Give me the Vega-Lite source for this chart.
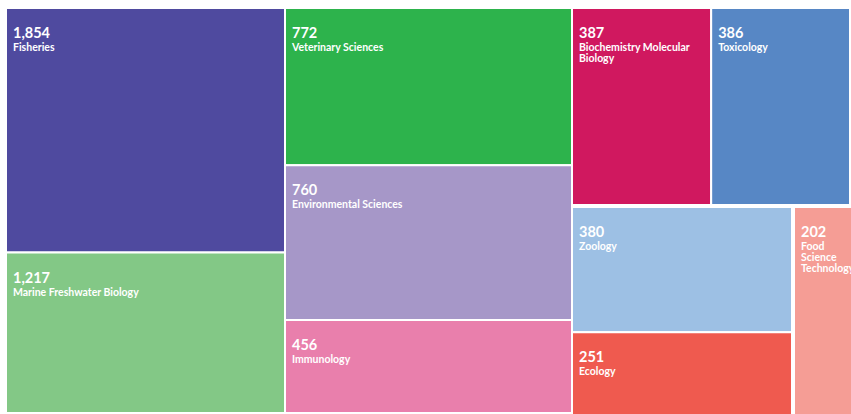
{
  "$schema": "https://vega.github.io/schema/vega-lite/v6.json",
  "padding": {"left": 5, "top": 7, "right": 0, "bottom": 0},
  "background": "white",
  "bounds": "flush",
  "spacing": 0,
  "config": {"view": {"stroke": null}, "concat": {"spacing": 0}},
  "data": {
    "values": [
      {"name": "Fisheries", "label": "Fisheries", "value": 1854, "group": "A"},
      {"name": "Marine Freshwater Biology", "label": "Marine Freshwater Biology", "value": 1217, "group": "A"},
      {"name": "Veterinary Sciences", "label": "Veterinary Sciences", "value": 772, "group": "B"},
      {"name": "Environmental Sciences", "label": "Environmental Sciences", "value": 760, "group": "B"},
      {"name": "Immunology", "label": "Immunology", "value": 456, "group": "B"},
      {"name": "Biochemistry Molecular Biology", "label": "Biochemistry Molecular\nBiology", "value": 387, "group": "C"},
      {"name": "Toxicology", "label": "Toxicology", "value": 386, "group": "C"},
      {"name": "Zoology", "label": "Zoology", "value": 380, "group": "D"},
      {"name": "Ecology", "label": "Ecology", "value": 251, "group": "D"},
      {"name": "Food Science Technology", "label": "Food\nScience\nTechnology", "value": 202, "group": "E"}
    ]
  },
  "hconcat": [
    {
      "width": 279, "height": 405,
      "transform": [
        {"filter": {"field": "group", "equal": "A"}},
        {"stack": "value", "groupby": ["group"], "sort": [{"field": "value", "order": "descending"}], "as": ["v0", "v1"], "offset": "normalize"}
      ],
      "encoding": {
        "x": {"datum": 0, "type": "quantitative", "scale": {"domain": [0, 1], "nice": false}, "axis": null},
        "y": {"field": "v0", "type": "quantitative", "scale": {"domain": [0, 1], "reverse": true, "nice": false}, "axis": null}
      },
      "layer": [
        {"mark": {"type": "rect", "stroke": "white", "strokeWidth": 2},
         "encoding": {"x2": {"datum": 1}, "y2": {"field": "v1"},
           "color": {"field": "name", "type": "nominal", "legend": null,
             "scale": {"domain": ["Fisheries", "Marine Freshwater Biology", "Veterinary Sciences", "Environmental Sciences", "Immunology", "Biochemistry Molecular Biology", "Toxicology", "Zoology", "Ecology", "Food Science Technology"],
                       "range": ["#4f4a9f", "#83c886", "#2db34c", "#a697c8", "#e97fac", "#d0185f", "#5787c5", "#9dc0e4", "#ef5a4f", "#f59d95"]}}}},
        {"mark": {"type": "text", "align": "left", "baseline": "alphabetic", "dx": 7, "dy": 30, "font": "Lato", "fontSize": 14.5, "fontWeight": "bold", "color": "white"},
         "encoding": {"text": {"field": "value", "type": "quantitative", "format": ","}}},
        {"mark": {"type": "text", "align": "left", "baseline": "alphabetic", "dx": 7, "dy": 43, "font": "Lato", "fontSize": 10.5, "fontWeight": "bold", "color": "white", "lineBreak": "\n", "lineHeight": 11}, 
         "encoding": {"text": {"field": "label"}}}
      ]
    },
    {
      "width": 287, "height": 405,
      "transform": [
        {"filter": {"field": "group", "equal": "B"}},
        {"stack": "value", "groupby": ["group"], "sort": [{"field": "value", "order": "descending"}], "as": ["v0", "v1"], "offset": "normalize"}
      ],
      "encoding": {
        "x": {"datum": 0, "type": "quantitative", "scale": {"domain": [0, 1], "nice": false}, "axis": null},
        "y": {"field": "v0", "type": "quantitative", "scale": {"domain": [0, 1], "reverse": true, "nice": false}, "axis": null}
      },
      "layer": [
        {"mark": {"type": "rect", "stroke": "white", "strokeWidth": 2},
         "encoding": {"x2": {"datum": 1}, "y2": {"field": "v1"},
           "color": {"field": "name", "type": "nominal", "legend": null}}},
        {"mark": {"type": "text", "align": "left", "baseline": "alphabetic", "dx": 7, "dy": 30, "font": "Lato", "fontSize": 14.5, "fontWeight": "bold", "color": "white"},
         "encoding": {"text": {"field": "value", "type": "quantitative", "format": ","}}},
        {"mark": {"type": "text", "align": "left", "baseline": "alphabetic", "dx": 7, "dy": 43, "font": "Lato", "fontSize": 10.5, "fontWeight": "bold", "color": "white", "lineBreak": "\n", "lineHeight": 11},
         "encoding": {"text": {"field": "label"}}}
      ]
    },
    {
      "vconcat": [
        {
          "width": 278, "height": 197,
          "transform": [
            {"filter": {"field": "group", "equal": "C"}},
            {"stack": "value", "groupby": ["group"], "sort": [{"field": "value", "order": "descending"}], "as": ["v0", "v1"], "offset": "normalize"}
          ],
          "encoding": {
            "x": {"field": "v0", "type": "quantitative", "scale": {"domain": [0, 1], "nice": false}, "axis": null},
            "y": {"datum": 0, "type": "quantitative", "scale": {"domain": [0, 1], "reverse": true, "nice": false}, "axis": null}
          },
          "layer": [
            {"mark": {"type": "rect", "stroke": "white", "strokeWidth": 2},
             "encoding": {"x2": {"field": "v1"}, "y2": {"datum": 1},
               "color": {"field": "name", "type": "nominal", "legend": null}}},
            {"mark": {"type": "text", "align": "left", "baseline": "alphabetic", "dx": 7, "dy": 30, "font": "Lato", "fontSize": 14.5, "fontWeight": "bold", "color": "white"},
             "encoding": {"text": {"field": "value", "type": "quantitative", "format": ","}}},
            {"mark": {"type": "text", "align": "left", "baseline": "alphabetic", "dx": 7, "dy": 43, "font": "Lato", "fontSize": 10.5, "fontWeight": "bold", "color": "white", "lineBreak": "\n", "lineHeight": 11},
             "encoding": {"text": {"field": "label"}}}
          ]
        },
        {
          "hconcat": [
            {
              "width": 220, "height": 208,
              "transform": [
                {"filter": {"field": "group", "equal": "D"}},
                {"stack": "value", "groupby": ["group"], "sort": [{"field": "value", "order": "descending"}], "as": ["v0", "v1"], "offset": "normalize"}
              ],
              "encoding": {
                "x": {"datum": 0, "type": "quantitative", "scale": {"domain": [0, 1], "nice": false}, "axis": null},
                "y": {"field": "v0", "type": "quantitative", "scale": {"domain": [0, 1], "reverse": true, "nice": false}, "axis": null}
              },
              "layer": [
                {"mark": {"type": "rect", "stroke": "white", "strokeWidth": 2},
                 "encoding": {"x2": {"datum": 1}, "y2": {"field": "v1"},
                   "color": {"field": "name", "type": "nominal", "legend": null}}},
                {"mark": {"type": "text", "align": "left", "baseline": "alphabetic", "dx": 7, "dy": 30, "font": "Lato", "fontSize": 14.5, "fontWeight": "bold", "color": "white"},
                 "encoding": {"text": {"field": "value", "type": "quantitative", "format": ","}}},
                {"mark": {"type": "text", "align": "left", "baseline": "alphabetic", "dx": 7, "dy": 43, "font": "Lato", "fontSize": 10.5, "fontWeight": "bold", "color": "white", "lineBreak": "\n", "lineHeight": 11},
                 "encoding": {"text": {"field": "label"}}}
              ]
            },
            {
              "width": 58, "height": 208,
              "transform": [
                {"filter": {"field": "group", "equal": "E"}},
                {"stack": "value", "groupby": ["group"], "sort": [{"field": "value", "order": "descending"}], "as": ["v0", "v1"], "offset": "normalize"}
              ],
              "encoding": {
                "x": {"datum": 0, "type": "quantitative", "scale": {"domain": [0, 1], "nice": false}, "axis": null},
                "y": {"field": "v0", "type": "quantitative", "scale": {"domain": [0, 1], "reverse": true, "nice": false}, "axis": null}
              },
              "layer": [
                {"mark": {"type": "rect", "stroke": "white", "strokeWidth": 2},
                 "encoding": {"x2": {"datum": 1}, "y2": {"field": "v1"},
                   "color": {"field": "name", "type": "nominal", "legend": null}}},
                {"mark": {"type": "text", "align": "left", "baseline": "alphabetic", "dx": 7, "dy": 30, "font": "Lato", "fontSize": 14.5, "fontWeight": "bold", "color": "white"},
                 "encoding": {"text": {"field": "value", "type": "quantitative", "format": ","}}},
                {"mark": {"type": "text", "align": "left", "baseline": "alphabetic", "dx": 7, "dy": 43, "font": "Lato", "fontSize": 10.5, "fontWeight": "bold", "color": "white", "lineBreak": "\n", "lineHeight": 11},
                 "encoding": {"text": {"field": "label"}}}
              ]
            }
          ]
        }
      ]
    }
  ]
}
